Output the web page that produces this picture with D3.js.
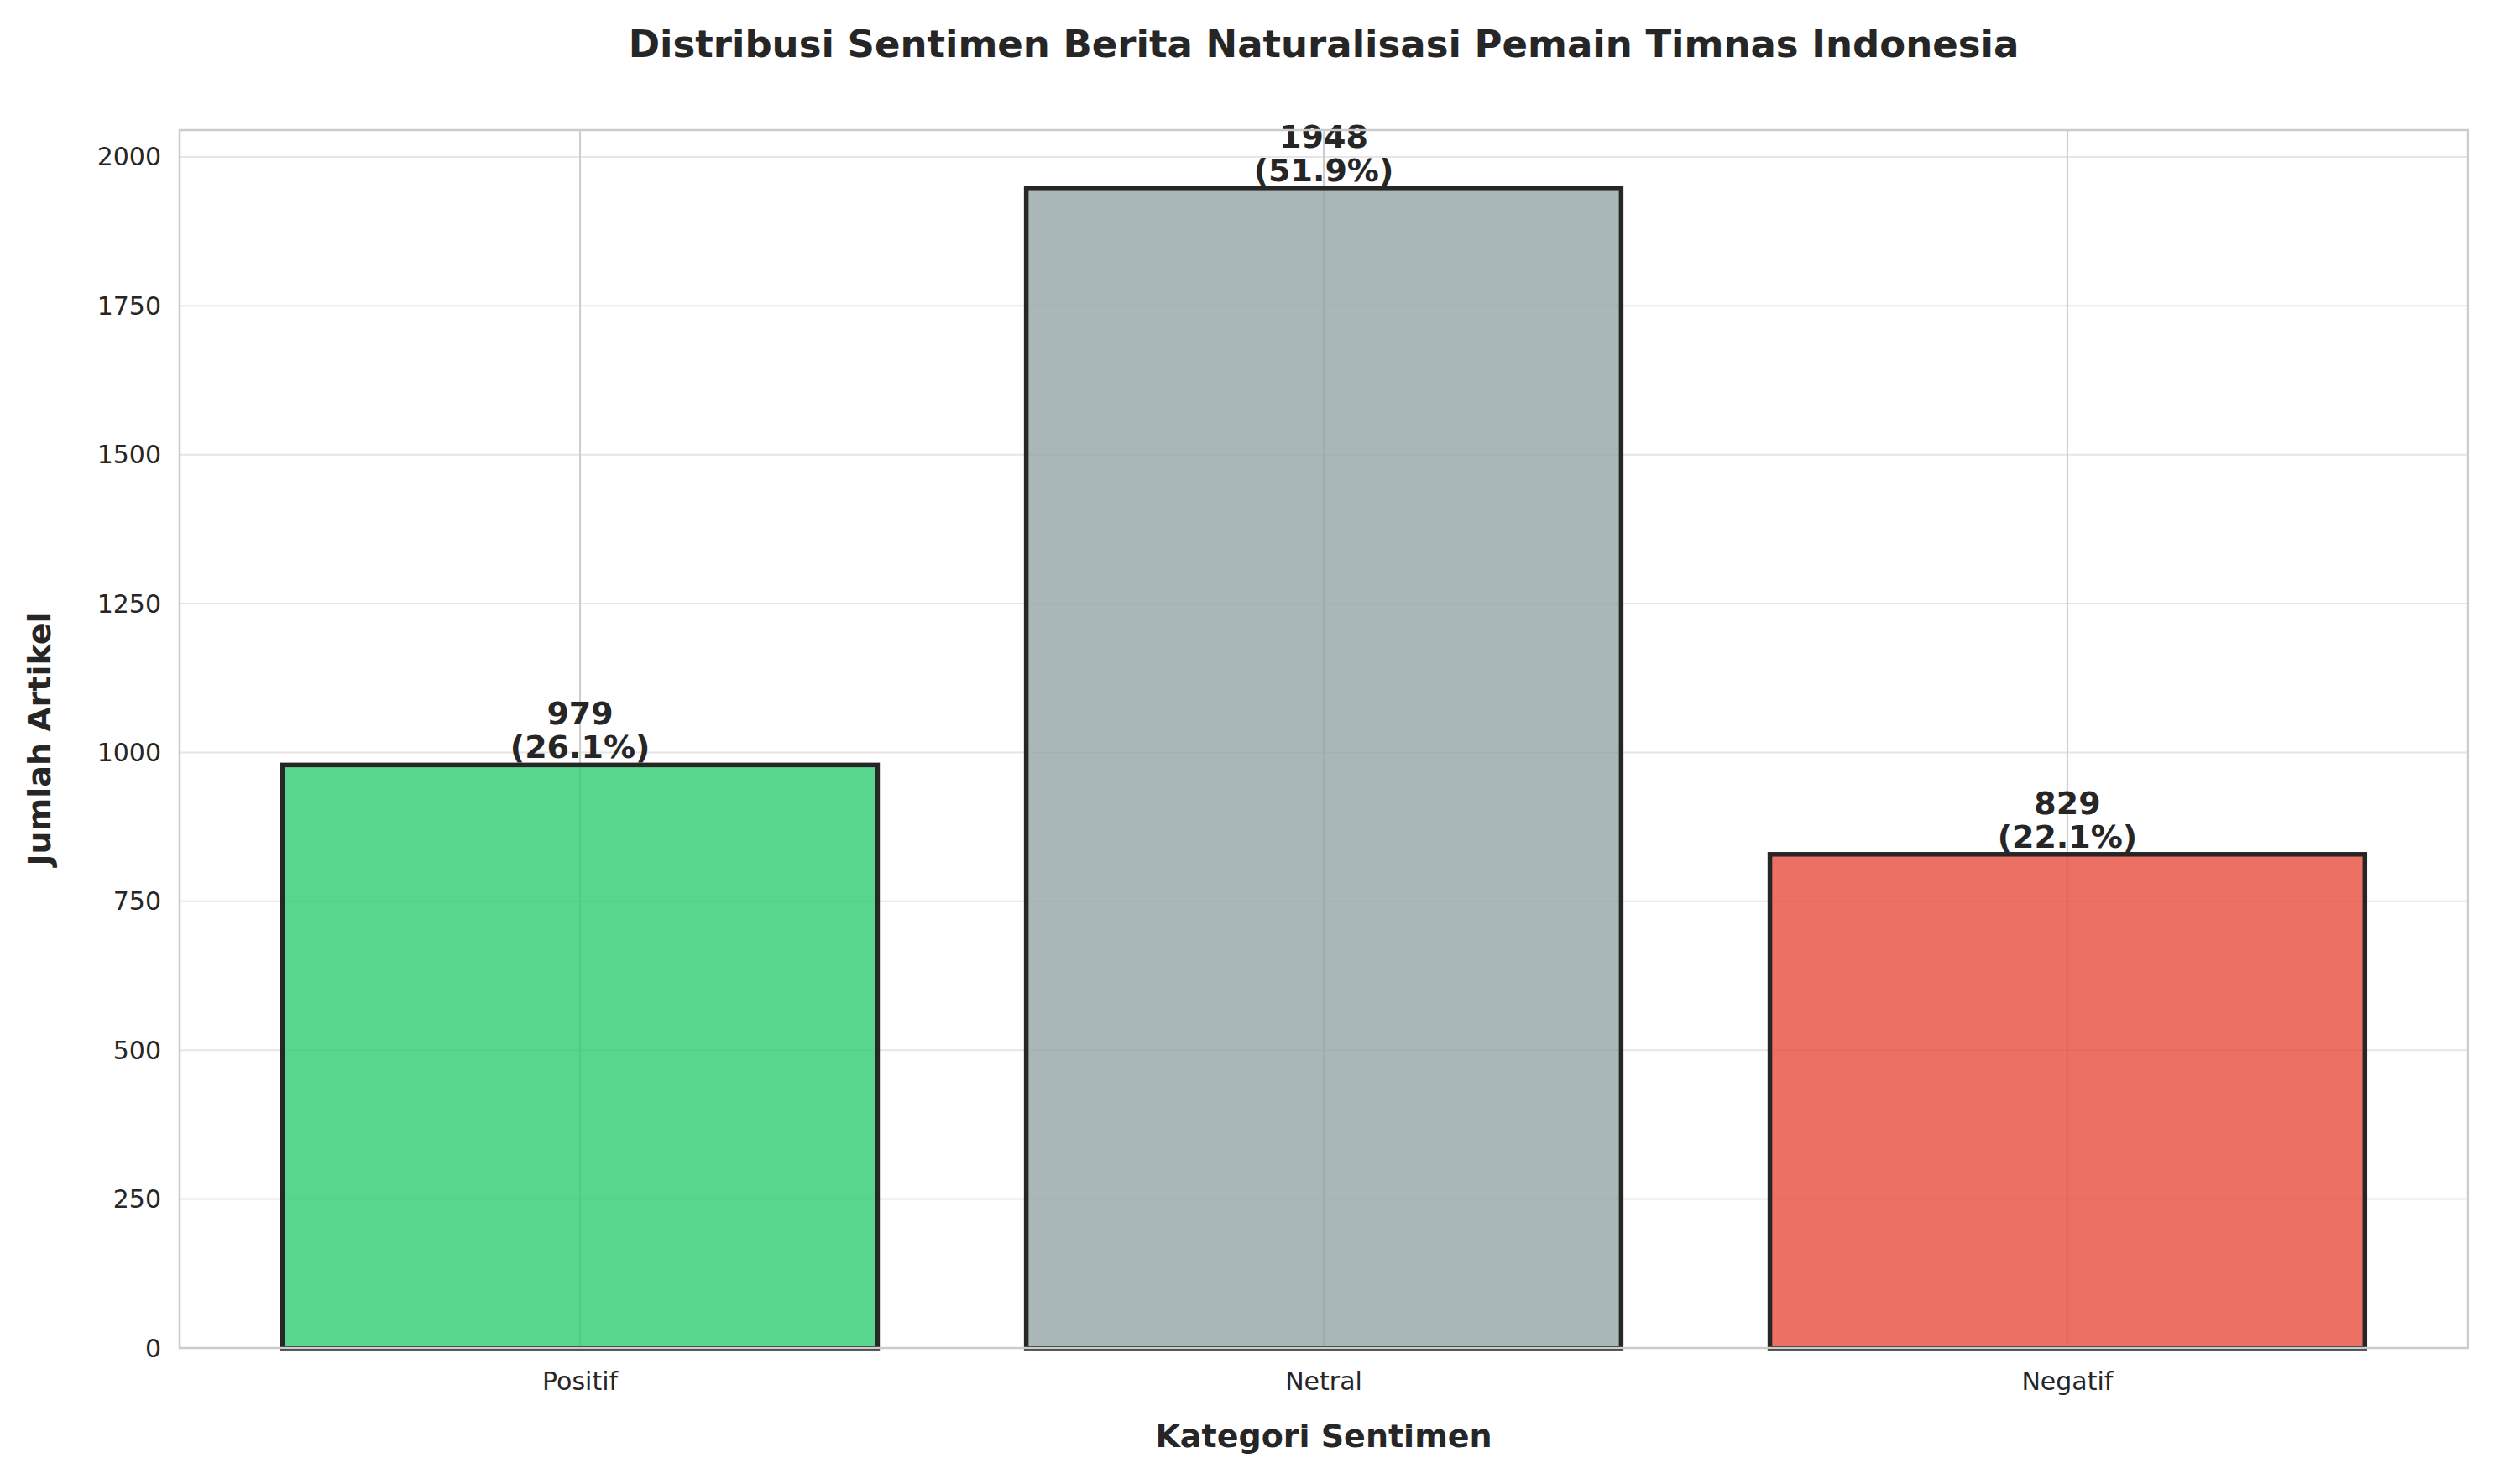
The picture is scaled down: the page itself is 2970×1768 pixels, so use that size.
<!DOCTYPE html>
<html>
<head>
<meta charset="utf-8">
<script src="https://cdn.jsdelivr.net/npm/d3@7"></script>
<style>
  body { margin: 0; background: #fff; }
  text { font-family: "DejaVu Sans", Arial, sans-serif; fill: #262626; }
</style>
</head>
<body>
<svg id="chart" width="2970" height="1768"></svg>
<script>
const categories = ["Positif", "Netral", "Negatif"];
const counts = [979, 1948, 829];
const percents = ["26.1%", "51.9%", "22.1%"];
const colors = ["#2ecc71", "#95a5a6", "#e74c3c"];
const yTicks = [0, 250, 500, 750, 1000, 1250, 1500, 1750, 2000];

const W = 2970, H = 1768;
const m = { left: 214, right: 30, top: 155, bottom: 162 };
const svg = d3.select("#chart");

const x = d3.scaleLinear().domain([-0.5385, 2.5385]).range([m.left, W - m.right]);
const y = d3.scaleLinear().domain([0, 2045]).range([H - m.bottom, m.top]);
const barW = x(0.4) - x(-0.4);

// grid
svg.append("g").selectAll("line").data(yTicks).join("line")
  .attr("x1", m.left).attr("x2", W - m.right)
  .attr("y1", d => y(d)).attr("y2", d => y(d))
  .attr("stroke", "#e6e6e6").attr("stroke-width", 2);
svg.append("g").selectAll("line").data(categories).join("line")
  .attr("x1", (d, i) => x(i)).attr("x2", (d, i) => x(i))
  .attr("y1", m.top).attr("y2", H - m.bottom)
  .attr("stroke", "#cccccc").attr("stroke-width", 2);

// bars
svg.append("g").selectAll("rect").data(counts).join("rect")
  .attr("x", (d, i) => x(i) - barW / 2).attr("width", barW)
  .attr("y", d => y(d)).attr("height", d => y(0) - y(d))
  .attr("fill", (d, i) => colors[i]).attr("fill-opacity", 0.8)
  .attr("stroke", "#262626").attr("stroke-width", 5.5);

// value labels
const lab = svg.append("g").selectAll("text").data(counts).join("text")
  .attr("text-anchor", "middle").attr("font-size", 38).attr("font-weight", "bold")
  .attr("x", (d, i) => x(i)).attr("y", d => y(d) - 8);
lab.append("tspan").attr("x", (d, i) => x(i)).attr("dy", "-1.05em").text(d => d);
lab.append("tspan").attr("x", (d, i) => x(i)).attr("dy", "1.05em").text((d, i) => "(" + percents[i] + ")");

// frame
svg.append("rect").attr("x", m.left).attr("y", m.top)
  .attr("width", W - m.left - m.right).attr("height", H - m.top - m.bottom)
  .attr("fill", "none").attr("stroke", "#cccccc").attr("stroke-width", 2.5);

// axes ticks
svg.append("g").selectAll("text").data(yTicks).join("text")
  .attr("x", m.left - 22).attr("y", d => y(d)).attr("dy", "0.35em")
  .attr("text-anchor", "end").attr("font-size", 30).text(d => d);
svg.append("g").selectAll("text").data(categories).join("text")
  .attr("x", (d, i) => x(i)).attr("y", H - m.bottom + 50)
  .attr("text-anchor", "middle").attr("font-size", 30).text(d => d);

// axis titles
svg.append("text").attr("x", (m.left + W - m.right) / 2).attr("y", H - m.bottom + 118)
  .attr("text-anchor", "middle").attr("font-size", 38).attr("font-weight", "bold").text("Kategori Sentimen");
svg.append("text").attr("transform", `translate(60,${(m.top + H - m.bottom) / 2}) rotate(-90)`)
  .attr("text-anchor", "middle").attr("font-size", 38).attr("font-weight", "bold").text("Jumlah Artikel");
svg.append("text").attr("x", (m.left + W - m.right) / 2).attr("y", 68)
  .attr("text-anchor", "middle").attr("font-size", 45).attr("font-weight", "bold")
  .text("Distribusi Sentimen Berita Naturalisasi Pemain Timnas Indonesia");
</script>
</body>
</html>
